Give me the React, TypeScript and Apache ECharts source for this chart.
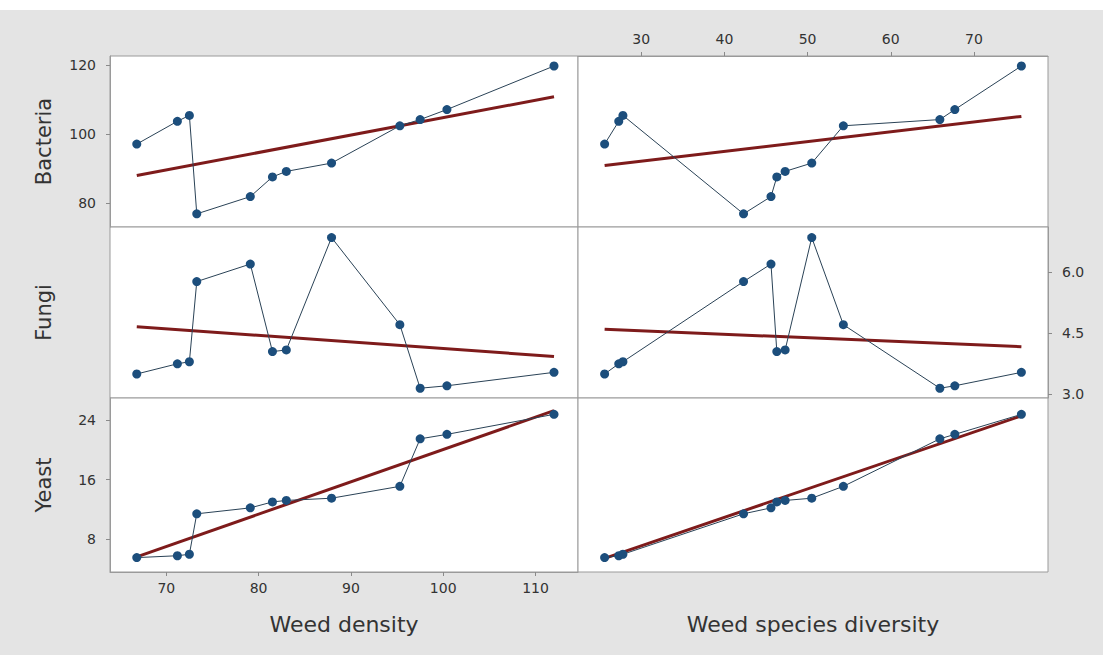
import React, { useEffect, useRef } from "react";
import * as echarts from "echarts";

// ---- data (12 samples, sorted) ----
const weedDensity = [66.8, 71.2, 72.5, 73.3, 79.1, 81.5, 83.0, 87.9, 95.3, 97.5, 100.4, 112.0];
const weedDiversity = [25.6, 27.3, 27.8, 42.3, 45.6, 46.3, 47.3, 50.5, 54.3, 65.9, 67.7, 75.7];
const bacteria = [97.1, 103.7, 105.4, 76.9, 81.9, 87.6, 89.2, 91.6, 102.4, 104.2, 107.1, 119.7];
const fungi = [3.49, 3.74, 3.79, 5.76, 6.19, 4.04, 4.08, 6.84, 4.7, 3.14, 3.2, 3.53];
const yeast = [5.5, 5.75, 5.95, 11.4, 12.2, 13.0, 13.2, 13.5, 15.1, 21.5, 22.1, 24.8];

// fitted-line end points
const bacteriaFitDensity = [[66.8, 88.0], [112.0, 110.8]];
const bacteriaFitDiversity = [[25.6, 90.9], [75.7, 105.1]];
const fungiFitDensity = [[66.8, 4.65], [112.0, 3.92]];
const fungiFitDiversity = [[25.6, 4.59], [75.7, 4.16]];
const yeastFitDensity = [[66.8, 5.6], [112.0, 25.3]];
const yeastFitDiversity = [[25.6, 5.4], [75.7, 24.6]];

// tick labels
const densityTicks = [70, 80, 90, 100, 110];
const diversityTicks = [30, 40, 50, 60, 70];
const bacteriaTicks = [80, 100, 120];
const fungiTicks = [3.0, 4.5, 6.0];
const yeastTicks = [8, 16, 24];

const rowNames = ["Bacteria", "Fungi", "Yeast"];
const colNames = ["Weed density", "Weed species diversity"];

// axis ranges
const densityRange = [63.9, 114.6];
const diversityRange = [22.4, 78.9];
const bacteriaRange = [73.1, 122.6];
const fungiRange = [2.9, 7.1];
const yeastRange = [3.56, 27.0];

const FONT = "DejaVu Sans";
const TICK_COLOR = "#8a8a8a";
const LABEL_COLOR = "#333333";

export default function App() {
  const ref = useRef<HTMLDivElement>(null);

  useEffect(() => {
    if (!ref.current) return;
    const chart = echarts.init(ref.current, null, { renderer: "svg" });

    const colLeft = [110, 578];
    const colWidth = [468, 470];
    const rowTop = [56, 227, 398];
    const rowHeight = [171, 171, 174];

    const grids: any[] = [];
    for (let r = 0; r < 3; r++) {
      for (let c = 0; c < 2; c++) {
        grids.push({
          left: colLeft[c],
          top: rowTop[r],
          width: colWidth[c],
          height: rowHeight[r],
          show: true,
          backgroundColor: "#ffffff",
          borderColor: "#9a9a9a",
          borderWidth: 1,
          containLabel: false,
        });
      }
    }

    const xs = [weedDensity, weedDiversity];
    const ys = [bacteria, fungi, yeast];
    const xRanges = [densityRange, diversityRange];
    const yRanges = [bacteriaRange, fungiRange, yeastRange];
    const fits = [
      [bacteriaFitDensity, bacteriaFitDiversity],
      [fungiFitDensity, fungiFitDiversity],
      [yeastFitDensity, yeastFitDiversity],
    ];

    const hiddenAxis = (gridIndex: number, range: number[]) => ({
      type: "value",
      gridIndex,
      min: range[0],
      max: range[1],
      show: false,
      splitLine: { show: false },
    });

    const shownAxis = (
      gridIndex: number,
      range: number[],
      position: string,
      ticks: number[],
      margin: number,
      fmt?: (v: number) => string
    ) => ({
      type: "value",
      gridIndex,
      min: range[0],
      max: range[1],
      position,
      splitLine: { show: false },
      axisLine: { show: true, lineStyle: { color: "#9a9a9a", width: 1 } },
      axisTick: {
        show: true,
        customValues: ticks,
        length: 4,
        inside: false,
        lineStyle: { color: TICK_COLOR, width: 1 },
      },
      axisLabel: {
        show: true,
        customValues: ticks,
        margin,
        color: LABEL_COLOR,
        fontFamily: FONT,
        fontSize: 14,
        formatter: fmt ? (v: number) => fmt(v) : (v: number) => String(v),
      },
    });

    const xAxes: any[] = [];
    const yAxes: any[] = [];
    for (let r = 0; r < 3; r++) {
      for (let c = 0; c < 2; c++) {
        const g = r * 2 + c;
        // x axes
        if (r === 0 && c === 1) {
          xAxes.push(shownAxis(g, diversityRange, "top", diversityTicks, 10));
        } else if (r === 2 && c === 0) {
          xAxes.push(shownAxis(g, densityRange, "bottom", densityTicks, 9));
        } else {
          xAxes.push(hiddenAxis(g, xRanges[c]));
        }
        // y axes
        if (r === 0 && c === 0) {
          yAxes.push(shownAxis(g, bacteriaRange, "left", bacteriaTicks, 14));
        } else if (r === 1 && c === 1) {
          yAxes.push(
            shownAxis(g, fungiRange, "right", fungiTicks, 14, (v) => v.toFixed(1))
          );
        } else if (r === 2 && c === 0) {
          yAxes.push(shownAxis(g, yeastRange, "left", yeastTicks, 14));
        } else {
          yAxes.push(hiddenAxis(g, yRanges[r]));
        }
      }
    }

    const series: any[] = [];
    for (let r = 0; r < 3; r++) {
      for (let c = 0; c < 2; c++) {
        const g = r * 2 + c;
        series.push({
          type: "line",
          xAxisIndex: g,
          yAxisIndex: g,
          data: fits[r][c],
          showSymbol: false,
          symbol: "none",
          lineStyle: { color: "#7e1b1b", width: 3 },
          z: 2,
          silent: true,
        });
        series.push({
          type: "line",
          xAxisIndex: g,
          yAxisIndex: g,
          data: xs[c].map((x, i) => [x, ys[r][i]]),
          symbol: "circle",
          symbolSize: 9,
          showSymbol: true,
          showAllSymbol: true,
          itemStyle: { color: "#1c4e7c", borderWidth: 0 },
          lineStyle: { color: "#2a4256", width: 1 },
          z: 3,
          silent: true,
        });
      }
    }

    const graphics: any[] = [
      {
        type: "rect",
        left: 0,
        top: 0,
        shape: { width: 1103, height: 10 },
        style: { fill: "#ffffff" },
        silent: true,
      },
    ];
    const rowCenters = [141.5, 312.5, 485];
    rowNames.forEach((name, i) => {
      graphics.push({
        type: "text",
        x: 44,
        y: rowCenters[i],
        rotation: Math.PI / 2,
        style: {
          text: name,
          fontFamily: FONT,
          fontSize: 21,
          fill: "#333333",
          align: "center",
          verticalAlign: "middle",
        },
      });
    });
    const colCenters = [344, 813];
    colNames.forEach((name, i) => {
      graphics.push({
        type: "text",
        x: colCenters[i],
        y: 624,
        style: {
          text: name,
          fontFamily: FONT,
          fontSize: 22,
          fill: "#333333",
          align: "center",
          verticalAlign: "middle",
        },
      });
    });

    chart.setOption({
      animation: false,
      backgroundColor: "#e4e4e4",
      grid: grids,
      xAxis: xAxes,
      yAxis: yAxes,
      series,
      graphic: graphics,
    });

    return () => chart.dispose();
  }, []);

  return (
    <div
      ref={ref}
      style={{ position: "fixed", left: 0, top: 0, width: 1103, height: 655 }}
    />
  );
}
